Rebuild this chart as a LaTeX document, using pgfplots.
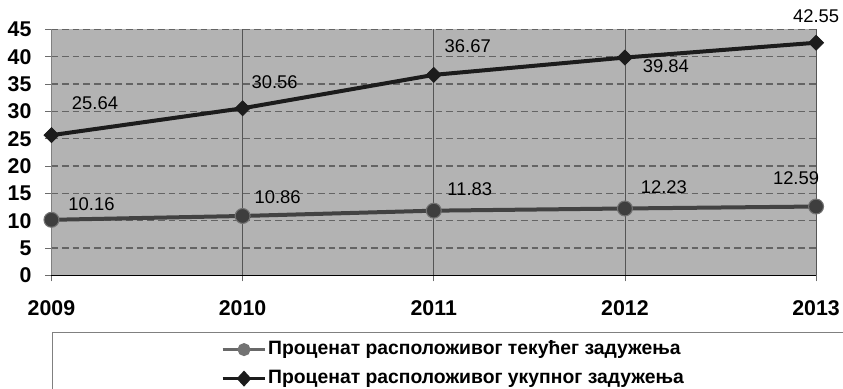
\documentclass[border=0pt]{standalone}
\usepackage{pgfplots}
\pgfplotsset{compat=1.18}
\usepackage{pgfplotstable}
\usepackage{fontspec}
\setmainfont{Liberation Sans}

\definecolor{plotbg}{RGB}{179,179,179}
\definecolor{gridgray}{RGB}{100,100,100}
\definecolor{vgrid}{RGB}{85,85,85}
\definecolor{curline}{RGB}{66,66,66}
\definecolor{curfill}{RGB}{62,62,62}
\definecolor{curedge}{RGB}{115,115,115}
\definecolor{totline}{RGB}{28,28,28}

% x index, value, label offset (dx, dy)
\pgfplotstableread{
x y dx dy
0 10.16 40 16
1 10.86 35 19
2 11.83 36 21.6
3 12.23 39 21
4 12.59 -20 28
}\tekuci
\pgfplotstableread{
x y dx dy
0 25.64 43.5 32
1 30.56 32 26.5
2 36.67 34 29
3 39.84 41 -8.3
4 42.55 0 26.4
}\ukupni

\begin{document}
\begin{tikzpicture}
\begin{axis}[
  name=ax,
  scale only axis,
  width=573.4pt, height=184.5pt,
  xmin=0, xmax=4, ymin=0, ymax=45,
  xtick={0,1,2,3,4},
  xticklabels={2009,2010,2011,2012,2013},
  ytick={0,5,...,45},
  axis x line=bottom, axis y line=left,
  x axis line style={-, draw=black, line width=1pt},
  y axis line style={-, draw=gray, line width=0.6pt},
  tick align=outside,
  major tick length=4.5pt,
  tick style={draw=gray!85!black, line width=0.6pt},
  axis background/.style={fill=plotbg},
  grid=major,
  x grid style={solid, draw=vgrid, line width=0.6pt},
  y grid style={draw=gridgray, line width=1pt, dash pattern=on 5pt off 3pt},
  ticklabel style={font=\fontsize{16}{19}\selectfont\bfseries},
  xticklabel style={yshift=-11pt},
  yticklabel style={xshift=-7pt, /pgf/number format/precision=0},
  /pgf/number format/assume math mode=true,
  /pgf/number format/fixed,
  /pgf/number format/precision=2,
  /pgf/number format/fixed zerofill,
  clip=false,
  legend cell align=left,
  legend style={
    at={(0.0007,-0.2305)}, anchor=north west,
    draw=gray, line width=0.8pt, fill=white,
    font=\fontsize{14.5}{17}\selectfont\bfseries,
    inner xsep=126.5pt, inner ysep=5.5pt,
    row sep=7.25pt, column sep=0pt,
    nodes={inner xsep=1pt, inner ysep=0pt, text height=11pt, text depth=3.5pt},
  },
  nodes near coords,
  point meta=explicit,
  visualization depends on={\thisrow{dx} \as \labdx},
  visualization depends on={\thisrow{dy} \as \labdy},
  nodes near coords style={
    anchor=center, inner sep=0pt, text=black,
    font=\fontsize{13.8}{16}\selectfont,
    xshift=0.75pt*\labdx, yshift=0.75pt*\labdy,
  },
]
\addplot[
  color=curline, line width=3pt,
  mark=*, mark size=5.6pt,
  mark options={fill=curfill, draw=curedge, line width=0.8pt},
  legend image code/.code={
    \draw[draw=curline!80, line width=2.2pt] (0pt,0pt) -- (32pt,0pt);
    \fill[curedge] (16pt,0pt) circle (3.3pt);
  },
] table[x=x, y=y, meta=y] {\tekuci};
\addlegendentry{Проценат расположивог текућег задужења}

\addplot[
  color=totline, line width=3pt,
  mark=square*, mark size=4pt,
  mark options={rotate=45, fill=totline, draw=totline, line width=0.5pt},
  legend image code/.code={
    \draw[draw=totline, line width=2.2pt] (0pt,0pt) -- (32pt,0pt);
    \fill[totline] (16pt,3.8pt) -- (19.5pt,0pt) -- (16pt,-3.8pt) -- (12.5pt,0pt) -- cycle;
  },
] table[x=x, y=y, meta=y] {\ukupni};
\addlegendentry{Проценат расположивог укупног задужења}
\end{axis}
\pgfresetboundingbox
\path[use as bounding box]
  ([shift={(-38.6pt,-84.5pt)}]ax.south west) rectangle
  ([shift={(593.6pt,206.5pt)}]ax.south west);
\end{tikzpicture}
\end{document}
